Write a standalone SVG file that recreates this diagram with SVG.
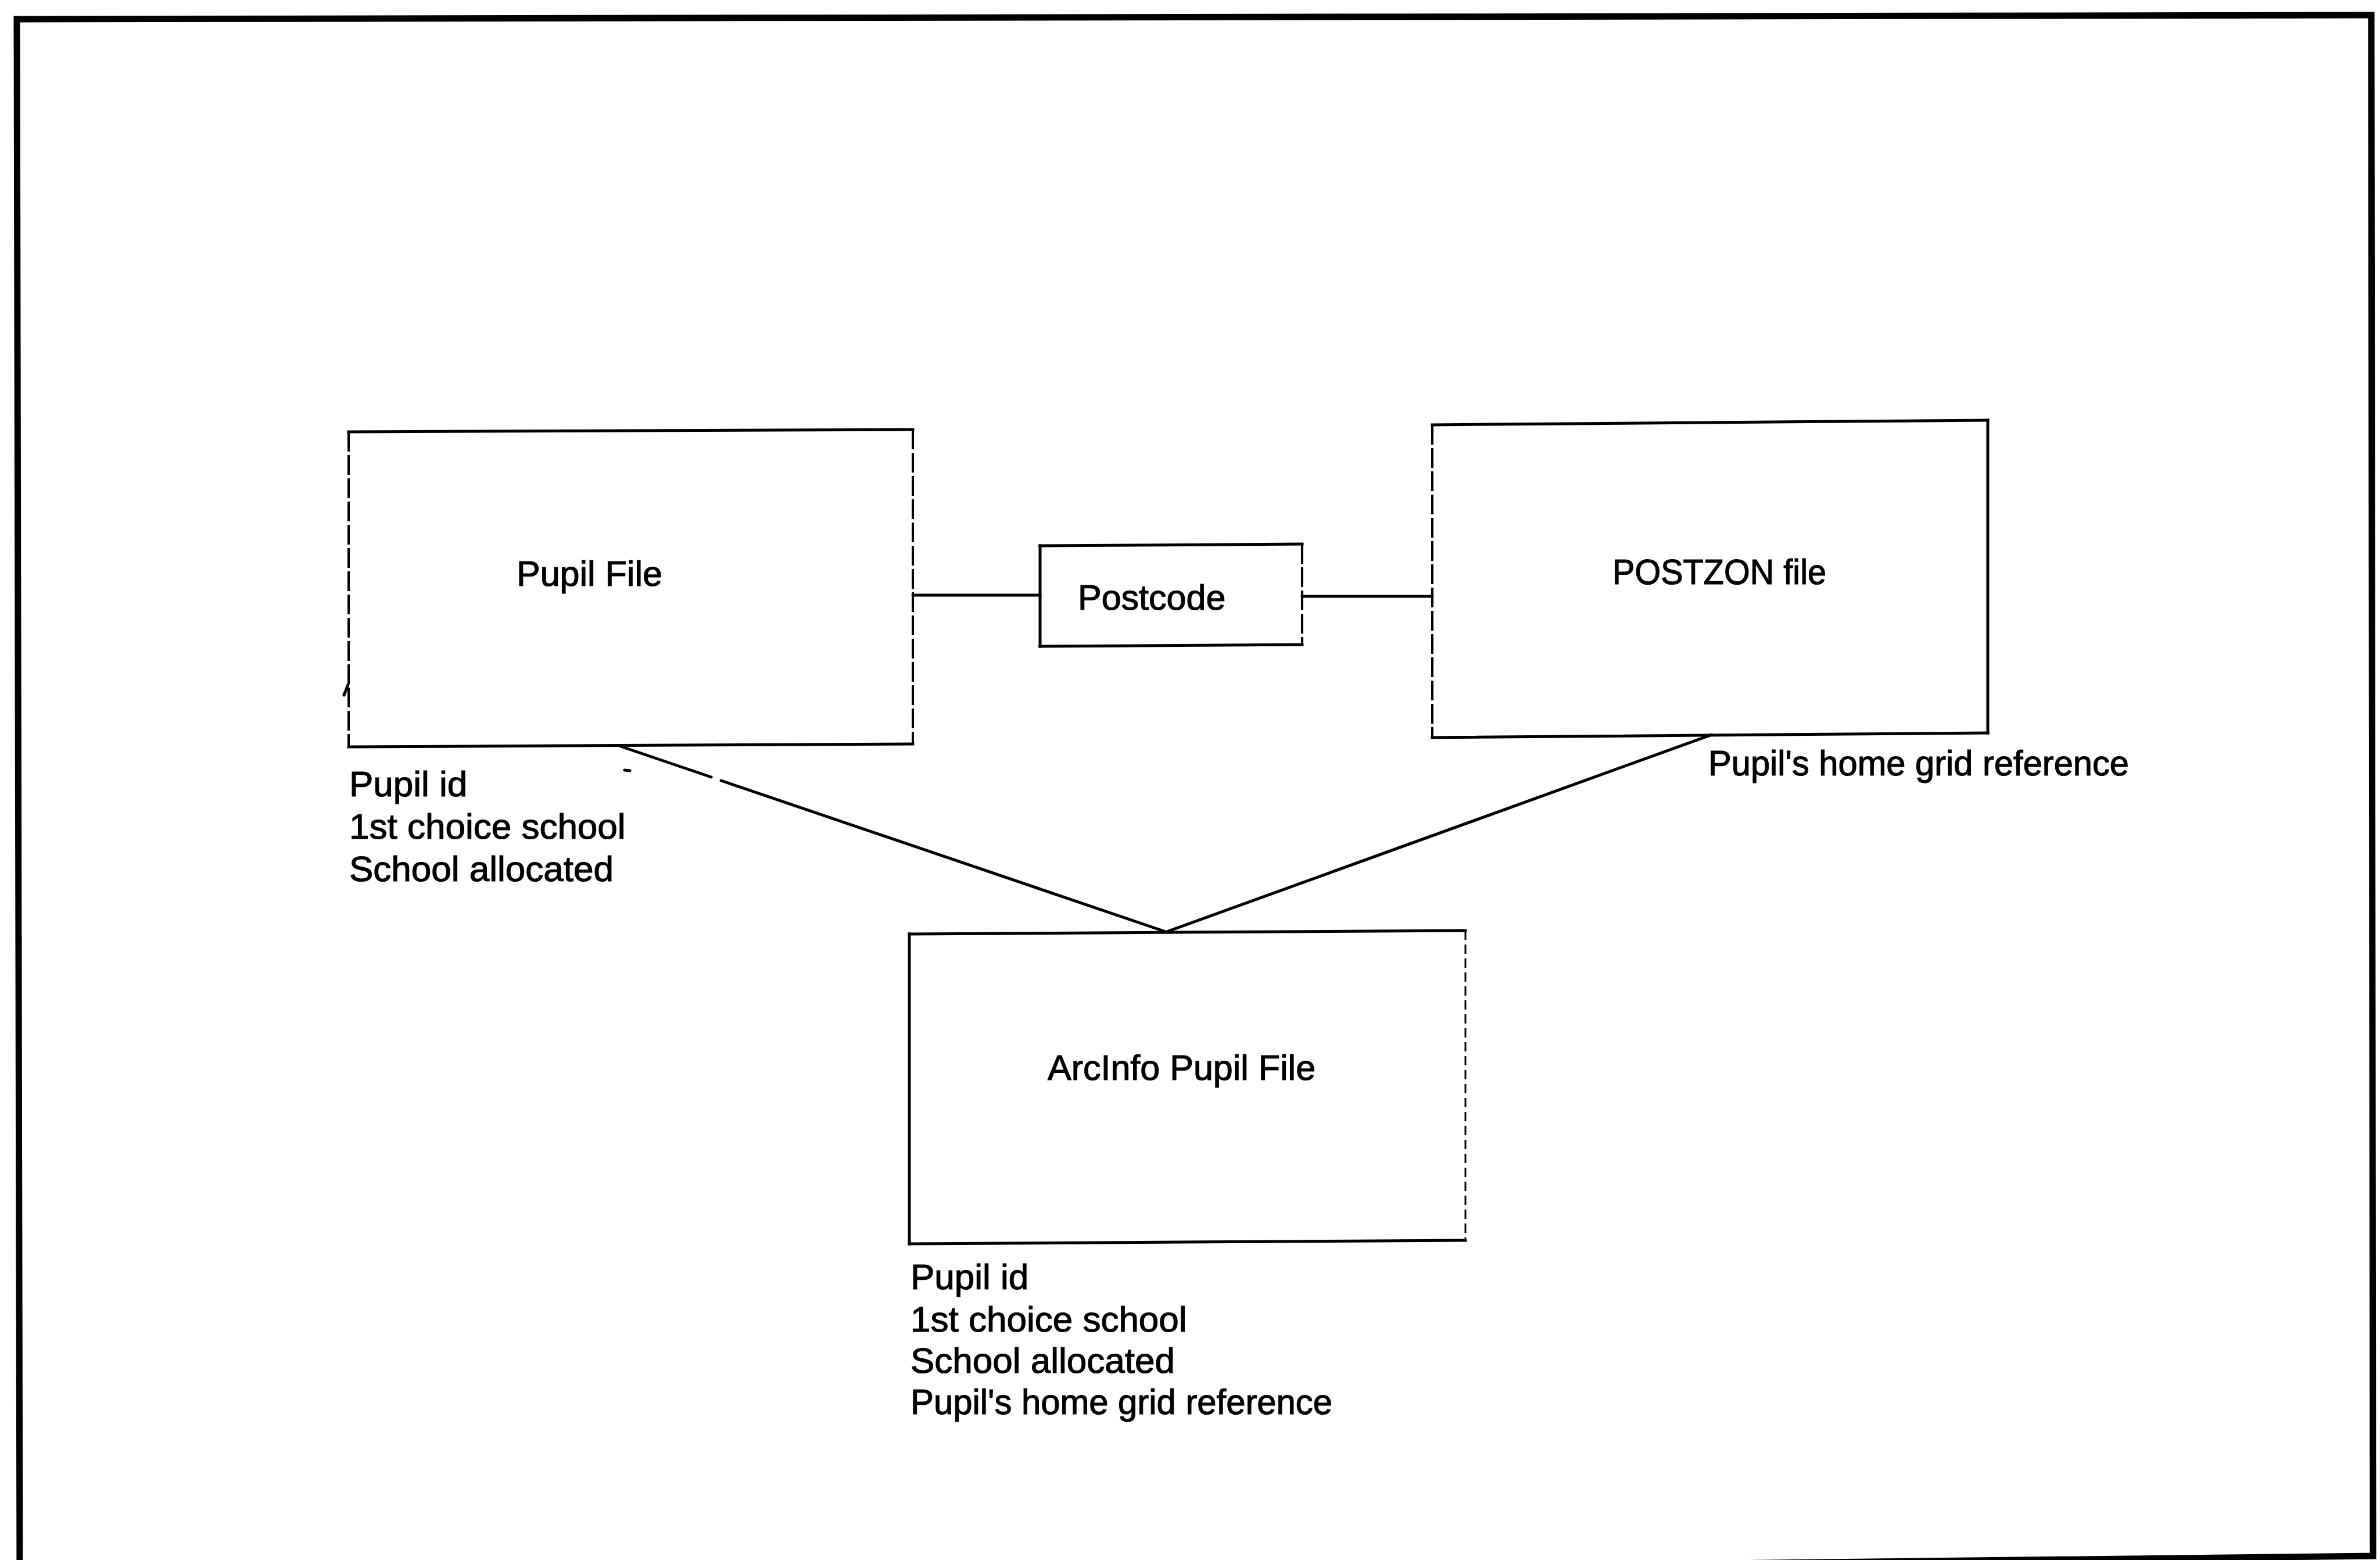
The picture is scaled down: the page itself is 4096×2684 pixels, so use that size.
<svg xmlns="http://www.w3.org/2000/svg" width="4096" height="2684" viewBox="0 0 4096 2684">
<style>
  .frame { fill: none; stroke: #000; stroke-width: 11; stroke-linejoin: miter; }
  .edge { fill: none; stroke: #000; stroke-width: 5; stroke-linecap: square; }
  .dash { fill: none; stroke: #000; stroke-width: 4; stroke-dasharray: 34 6; }
  .dashf { fill: none; stroke: #000; stroke-width: 3; stroke-dasharray: 16 8; }
  .conn { fill: none; stroke: #000; stroke-width: 5; stroke-linecap: round; }
  .title { font-family: "Liberation Sans", Arial, sans-serif; font-size: 61px; fill: #000; stroke: #000; stroke-width: 1.2; }
  .label { font-family: "Liberation Sans", Arial, sans-serif; font-size: 62px; fill: #000; stroke: #000; stroke-width: 1.2; }
</style>
<rect width="4096" height="2684" fill="#fff"/>
<path class="frame" d="M34,2740 L29,33 L4081,26 L4084,2677 L34,2724"/>

<g id="connectors">
  <path class="conn" d="M1571,1024 L1790,1024"/>
  <path class="conn" d="M2241,1026 L2465,1026"/>
  <path class="conn" d="M1068,1284 L1224,1337"/>
  <path class="conn" d="M1241,1343 L2006,1603"/>
  <path class="conn" d="M2946,1264 L2008,1603"/>
</g>

<g id="pupil-file">
  <path class="edge" d="M600,743 L1571,739"/>
  <path class="edge" d="M600,1285 L1571,1280"/>
  <path class="dash" d="M600,743 L600,1285"/>
  <path class="dash" d="M1571,739 L1571,1280"/>
  <text class="title" x="889" y="1008">Pupil File</text>
  <text class="label" x="601" y="1370">Pupil id</text>
  <text class="label" x="601" y="1443">1st choice school</text>
  <text class="label" x="601" y="1516">School allocated</text>
</g>

<g id="postcode">
  <path class="edge" d="M1790,939 L2241,936"/>
  <path class="edge" d="M1790,1112 L2241,1109"/>
  <path class="edge" d="M1790,939 L1790,1112"/>
  <path class="dash" d="M2241,936 L2241,1109"/>
  <text class="title" x="1855" y="1049">Postcode</text>
</g>

<g id="postzon-file">
  <path class="edge" d="M2465,731 L3421,723"/>
  <path class="edge" d="M2465,1269 L3421,1261"/>
  <path class="dash" d="M2465,731 L2465,1269"/>
  <path class="edge" d="M3421,723 L3421,1261"/>
  <text class="title" x="2775" y="1005" textLength="368" lengthAdjust="spacingAndGlyphs">POSTZON file</text>
  <text class="label" x="2940" y="1334" textLength="724" lengthAdjust="spacingAndGlyphs">Pupil's home grid reference</text>
</g>

<g id="arcinfo-pupil-file">
  <path class="edge" d="M1565,1607 L2522,1601"/>
  <path class="edge" d="M1565,2140 L2522,2134"/>
  <path class="edge" d="M1565,1607 L1565,2140"/>
  <path class="dashf" d="M2522,1601 L2522,2134"/>
  <text class="title" x="1803" y="1858">ArcInfo Pupil File</text>
  <text class="label" x="1567" y="2218">Pupil id</text>
  <text class="label" x="1567" y="2291">1st choice school</text>
  <text class="label" x="1567" y="2362">School allocated</text>
  <text class="label" x="1567" y="2433" textLength="726" lengthAdjust="spacingAndGlyphs">Pupil's home grid reference</text>
</g>

<path class="conn" d="M1075,1325 L1084,1326"/>
<path class="conn" d="M592,1196 L599,1178"/>
</svg>
